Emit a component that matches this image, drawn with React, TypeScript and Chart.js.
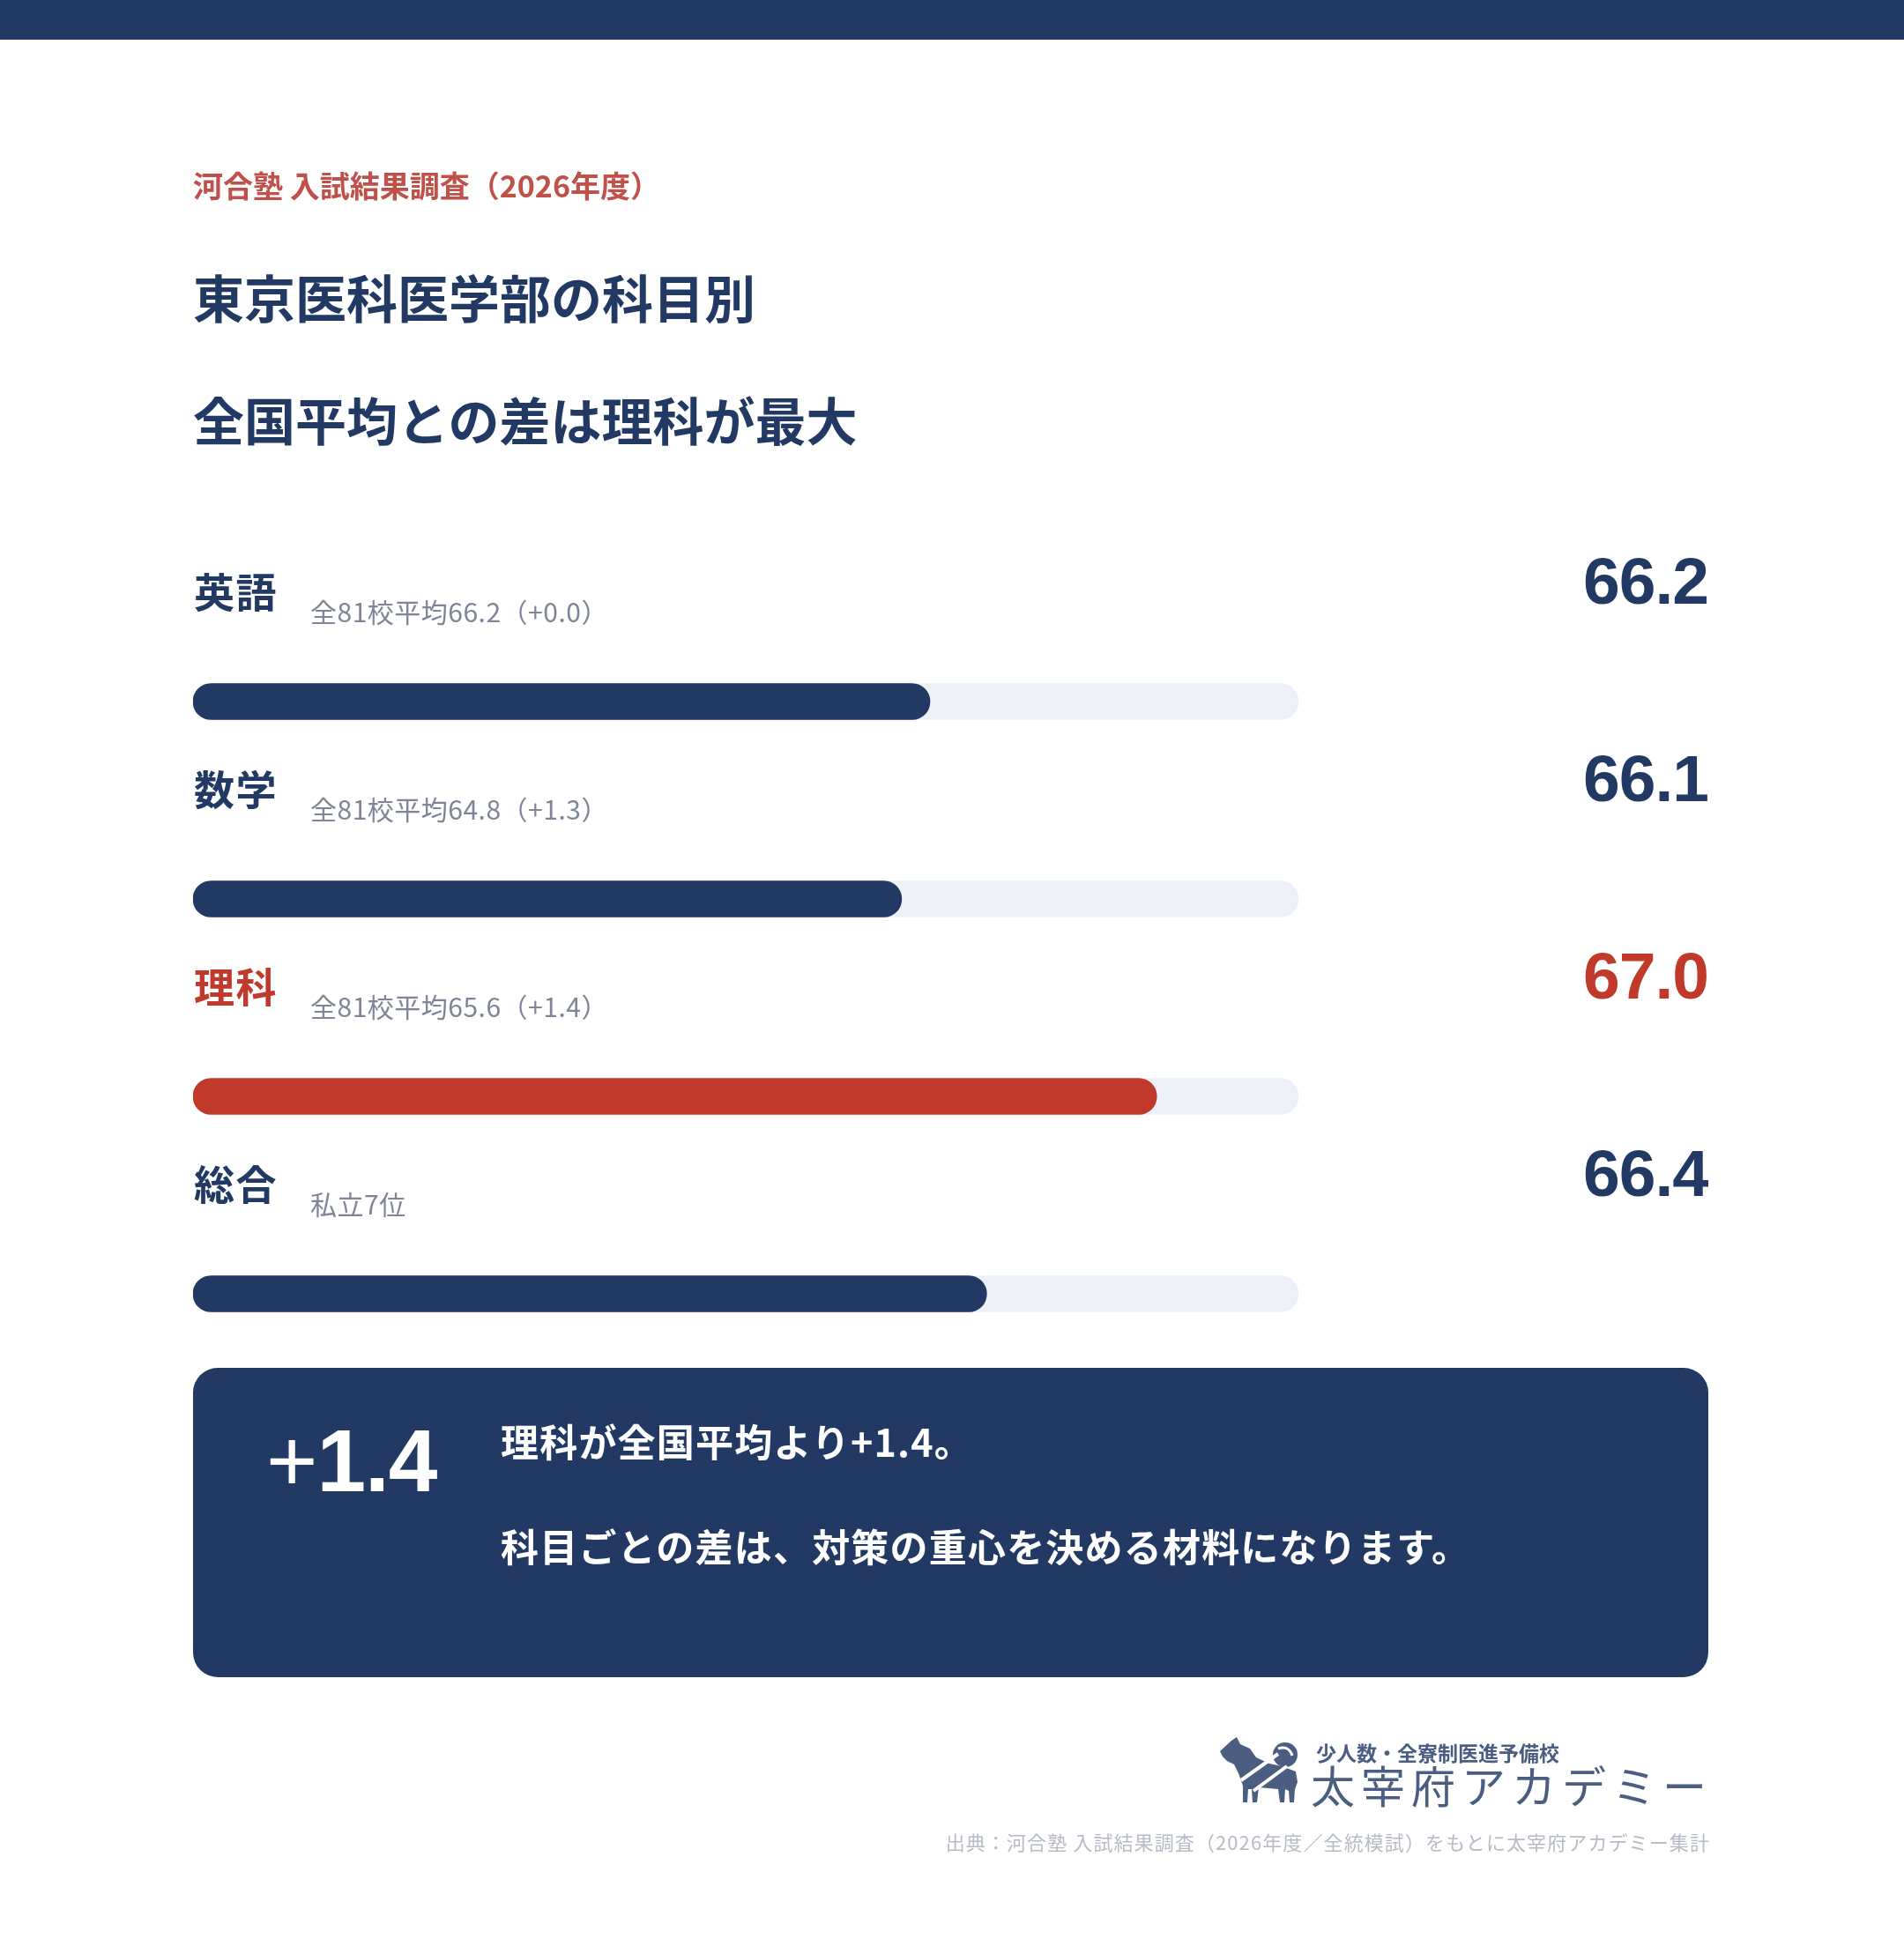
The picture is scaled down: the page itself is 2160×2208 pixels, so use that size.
import React, { useEffect, useRef } from 'react';
import { Chart, registerables } from 'chart.js';

Chart.register(...registerables);

// data
const subjects = ['英語', '数学', '理科', '総合'];
const scores = [66.2, 66.1, 67.0, 66.4];
const notes = ['全81校平均66.2（+0.0）', '全81校平均64.8（+1.3）', '全81校平均65.6（+1.4）', '私立7位'];
const highlight = [false, false, true, false];
const axisMin = 63.6;
const axisMax = 67.5;

const NAVY = '#213963';
const RED = '#c0392b';
const TRACK = '#edf0f7';
const SUB = '#7d8597';
const LOGO = '#4b5e82';
const JP = '"Noto Sans CJK JP", "Noto Sans", sans-serif';
const NUM = '"Liberation Sans", Arial, sans-serif';

const labelPlugin = {
  id: 'rowLabels',
  afterDatasetsDraw(chart: any) {
    const { ctx, chartArea } = chart;
    const meta = chart.getDatasetMeta(0);
    ctx.save();
    meta.data.forEach((bar: any, i: number) => {
      const top = bar.y - 20.5;
      const color = highlight[i] ? RED : NAVY;
      ctx.textBaseline = 'alphabetic';

      ctx.textAlign = 'left';
      ctx.fillStyle = color;
      ctx.font = `bold 46px ${JP}`;
      (ctx as any).letterSpacing = '1.5px';
      ctx.fillText(subjects[i], chartArea.left + 1, top - 87);

      ctx.fillStyle = SUB;
      ctx.font = `30px ${JP}`;
      (ctx as any).letterSpacing = '0.5px';
      ctx.fillText(notes[i], chartArea.left + 133, top - 70);

      ctx.textAlign = 'right';
      ctx.fillStyle = color;
      ctx.font = `bold 75px ${NUM}`;
      (ctx as any).letterSpacing = '-1px';
      ctx.fillText(scores[i].toFixed(1), chart.width, top - 91);
    });
    ctx.restore();
  },
};

function ScoreBars() {
  const ref = useRef<HTMLCanvasElement | null>(null);

  useEffect(() => {
    if (!ref.current) return;
    const chart = new Chart(ref.current, {
      type: 'bar',
      data: {
        labels: subjects,
        datasets: [
          {
            label: 'score',
            data: scores,
            base: axisMin,
            backgroundColor: highlight.map(h => (h ? RED : NAVY)),
            borderRadius: 100,
            borderSkipped: false,
            barThickness: 41,
            grouped: false,
            order: 0,
          } as any,
          {
            label: 'track',
            data: subjects.map(() => axisMax),
            base: axisMin,
            backgroundColor: TRACK,
            borderRadius: 100,
            borderSkipped: false,
            barThickness: 41,
            grouped: false,
            order: 1,
          } as any,
        ],
      },
      options: {
        indexAxis: 'y',
        responsive: false,
        maintainAspectRatio: false,
        animation: false,
        events: [],
        layout: { padding: { top: 124, right: 465, left: 0, bottom: 0 } },
        plugins: { legend: { display: false }, tooltip: { enabled: false } },
        scales: {
          x: { min: axisMin, max: axisMax, display: false },
          y: { display: false },
        },
      },
      plugins: [labelPlugin],
    });
    return () => chart.destroy();
  }, []);

  return (
    <canvas
      ref={ref}
      width={1719}
      height={1020}
      style={{ position: 'absolute', left: 219, top: 560, width: 1719, height: 1020 }}
    />
  );
}

function Dog() {
  // rough silhouette of the school's dog mark
  return (
    <g transform="translate(1370,1960)" fill={LOGO}>
      <polygon points="14,27 27,15 33,11 37,19 48,24 55,34 70,41 84,44 100,50 102,62 99,70 98,85 93,85 92,72 88,70 87,85 82,85 80,70 58,68 56,85 51,85 50,70 46,70 45,85 40,85 40,66 35,52 30,42 22,38 17,33" />
      <circle cx={88} cy={31} r={14} />
      <path d="M80 24 Q92 20 96 32" stroke="#fff" strokeWidth={3} fill="none" />
      <line x1={38} y1={60} x2={80} y2={30} stroke="#fff" strokeWidth={4} />
      <line x1={52} y1={72} x2={90} y2={44} stroke="#fff" strokeWidth={4} />
    </g>
  );
}

export default function App() {
  useEffect(() => {
    document.body.style.margin = '0';
  }, []);

  return (
    <div style={{ position: 'relative', width: 2160, height: 2208, background: '#ffffff', overflow: 'hidden' }}>
      <ScoreBars />
      <svg
        width={2160}
        height={2208}
        style={{ position: 'absolute', left: 0, top: 0, pointerEvents: 'none' }}
        fontFamily={JP}
      >
        <rect x={0} y={0} width={2160} height={45} fill={NAVY} />

        <text x={219} y={224} fontSize={34} fontWeight={700} fill="#c0504a">
          河合塾 入試結果調査（2026年度）
        </text>
        <text x={219} y={361} fontSize={58} fontWeight={700} fill={NAVY}>
          東京医科医学部の科目別
        </text>
        <text x={219} y={500} fontSize={58} fontWeight={700} fill={NAVY}>
          全国平均との差は理科が最大
        </text>

        <rect x={219} y={1552} width={1719} height={351} rx={28} ry={28} fill={NAVY} />
        <text x={302} y={1692} fontSize={100} fontWeight={700} fill="#ffffff" fontFamily={NUM} style={{ letterSpacing: '-1px' }}>
          <tspan fontWeight={400}>+</tspan>1.4
        </text>
        <text x={568} y={1653} fontSize={43} fontWeight={700} fill="#ffffff" style={{ letterSpacing: '1.2px' }}>
          理科が全国平均より+1.4。
        </text>
        <text x={568} y={1772} fontSize={43} fontWeight={700} fill="#ffffff" style={{ letterSpacing: '1.2px' }}>
          科目ごとの差は、対策の重心を決める材料になります。
        </text>

        <Dog />
        <text x={1493} y={1998} fontSize={23} fontWeight={700} fill={LOGO}>
          少人数・全寮制医進予備校
        </text>
        <text x={1487} y={2046} fontSize={50} fontWeight={400} fill={LOGO} style={{ letterSpacing: '7px' }}>
          太宰府アカデミー
        </text>
        <text x={1940} y={2099} fontSize={22} fill="#b6bbc6" textAnchor="end" style={{ letterSpacing: '1.1px' }}>
          出典：河合塾 入試結果調査（2026年度／全統模試）をもとに太宰府アカデミー集計
        </text>
      </svg>
    </div>
  );
}
